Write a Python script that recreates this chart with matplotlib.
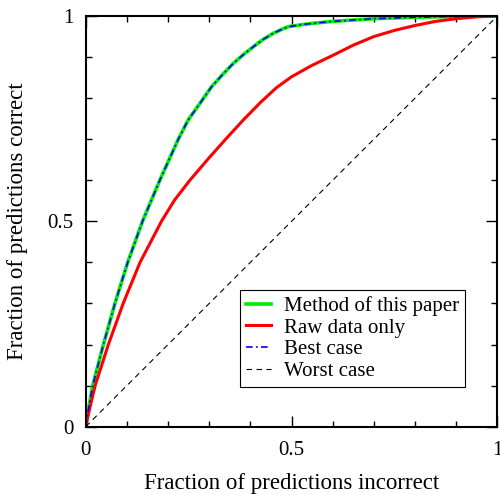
import matplotlib
matplotlib.use("Agg")
import matplotlib.pyplot as plt
from matplotlib.ticker import MultipleLocator, FixedLocator, FixedFormatter

plt.rcParams["font.family"] = ["Liberation Serif", "DejaVu Serif"]

# Courbes
method_x = [0, 0.008, 0.017, 0.043, 0.071, 0.102, 0.138, 0.180, 0.225, 0.249, 0.278,
            0.306, 0.333, 0.359, 0.383, 0.407, 0.431, 0.456, 0.475, 0.492, 0.525,
            0.550, 0.600, 0.700, 0.800, 0.900, 1.0]
method_y = [0, 0.05, 0.10, 0.20, 0.30, 0.40, 0.50, 0.60, 0.70, 0.747, 0.788,
            0.828, 0.858, 0.885, 0.906, 0.925, 0.943, 0.958, 0.967, 0.974, 0.979,
            0.982, 0.987, 0.9935, 0.997, 0.999, 1.0]
raw_x = [0, 0.011, 0.023, 0.055, 0.091, 0.132, 0.184, 0.216, 0.253, 0.300, 0.340,
         0.383, 0.425, 0.464, 0.500, 0.550, 0.600, 0.650, 0.700, 0.750, 0.800,
         0.850, 0.900, 0.950, 1.0]
raw_y = [0, 0.05, 0.10, 0.20, 0.30, 0.40, 0.50, 0.552, 0.60, 0.655, 0.70,
         0.747, 0.790, 0.826, 0.852, 0.880, 0.904, 0.929, 0.950, 0.965, 0.977,
         0.987, 0.9935, 0.998, 1.0]
best_x = list(method_x)
best_y = list(method_y)
worst_x = [0, 1]
worst_y = [0, 1]

major_ticks = [0, 0.5, 1]
major_labels = ["0", "0.5", "1"]

fig = plt.figure(figsize=(5.0, 4.95), dpi=100)
ax = fig.add_axes([0.1714, 0.138, 0.8232, 0.8296])

ax.plot(method_x, method_y, color="#00ee00", lw=2.6, label="Method of this paper")
ax.plot(raw_x, raw_y, color="#ff0000", lw=2.2, label="Raw data only")
ax.plot(best_x, best_y, color="#0000ff", lw=1.2, ls=(0, (4, 2, 1, 2)), label="Best case")
ax.plot(worst_x, worst_y, color="black", lw=0.8, ls=(0, (5, 4)), label="Worst case")

ax.set_xlim(0, 1); ax.set_ylim(0, 1)
for a in (ax.xaxis, ax.yaxis):
    a.set_major_locator(FixedLocator(major_ticks))
    a.set_major_formatter(FixedFormatter(major_labels))
    a.set_minor_locator(MultipleLocator(0.1))
ax.tick_params(which="both", direction="in", top=True, right=True, width=1.0,
               labelsize=15)
ax.tick_params(axis="x", pad=10.5)
ax.tick_params(axis="y", pad=9)
ax.tick_params(which="major", length=8)
ax.tick_params(which="minor", length=4)
for s in ax.spines.values():
    s.set_linewidth(1.5)

ax.set_xlabel("Fraction of predictions incorrect", fontsize=16.5, labelpad=9)
ax.set_ylabel("Fraction of predictions correct", fontsize=16.5, labelpad=14)

leg = ax.legend(loc="lower right", bbox_to_anchor=(0.9215, 0.096), borderaxespad=0,
                fontsize=15, fancybox=False, framealpha=1, edgecolor="black",
                handlelength=1.2, handletextpad=0.6, labelspacing=0.1,
                borderpad=0.3)
leg.get_frame().set_linewidth(0.8)

fig.savefig("out.png", dpi=100)
